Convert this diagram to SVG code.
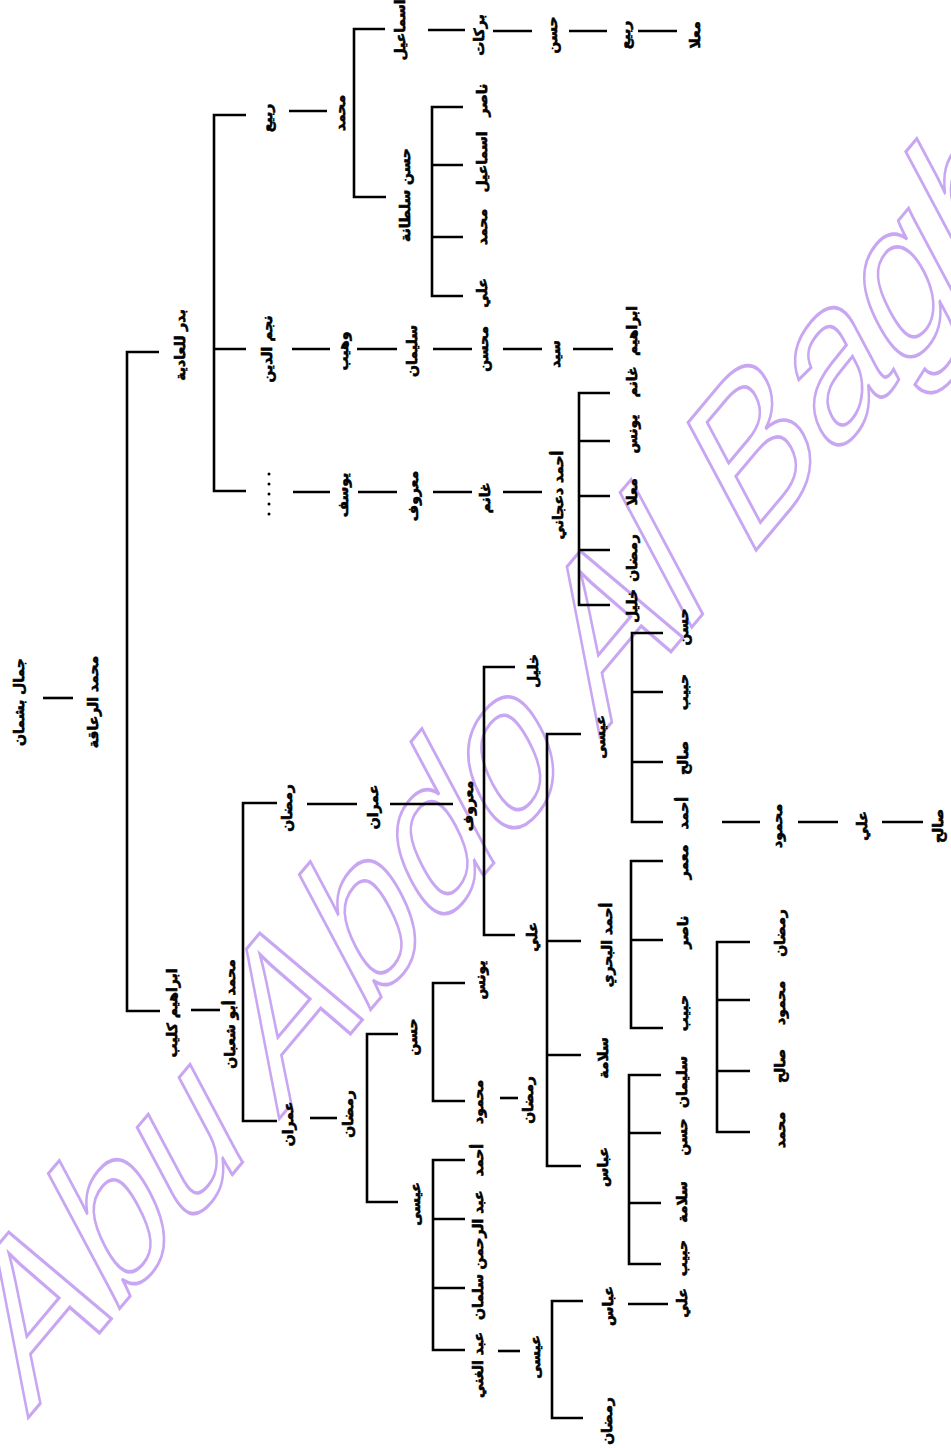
<svg xmlns="http://www.w3.org/2000/svg" width="951" height="1448" viewBox="0 0 951 1448">
<style>
.n{font-family:"DejaVu Sans",sans-serif;font-weight:bold;font-size:14px;text-anchor:middle;dominant-baseline:central;fill:#000;stroke:#000;stroke-width:0.6}
.c path{stroke:#000;stroke-width:2.6;fill:none}
.wm{font-family:"Liberation Sans",sans-serif;font-size:195px;fill:none;stroke:#c8a6f2;stroke-width:3}
</style>
<rect width="951" height="1448" fill="#fff"/>
<g id="watermark"><text class="wm" transform="translate(28,1418) rotate(-50) skewX(-22)">Abu Abdo Al Baghdadi</text></g>
<g id="connectors" class="c">
<path d="M43 698H73"/>
<path d="M159 352H127V1011H160"/>
<path d="M191 1010H220"/>
<path d="M246 115H214V491H246M214 349H246"/>
<path d="M289 111H327"/>
<path d="M385 29H354V197H386"/>
<path d="M428 30H465M493 31H532M569 31H607M638 31H677"/>
<path d="M463 107H432V296H463M432 165H463M432 237H463"/>
<path d="M292 349H330M357 349H397M433 349H472M503 349H542M573 349H613"/>
<path d="M610 393H579V605H610M579 441H610M579 496H610M579 550H610"/>
<path d="M293 492H330M358 492H397M433 492H472M503 492H542"/>
<path d="M277 803H243V1121H277"/>
<path d="M307 804H357M390 804H453"/>
<path d="M515 667H484V935H515"/>
<path d="M581 734H547V1166H581M547 941H581M547 1055H581"/>
<path d="M663 633H632V822H663M632 692H663M632 762H663"/>
<path d="M722 822H760M798 822H838M882 822H923"/>
<path d="M663 861H631V1028H663M631 940H663"/>
<path d="M661 1075H629V1264H661M629 1133H661M629 1203H661"/>
<path d="M750 942H717V1132H750M717 1000H750M717 1071H750"/>
<path d="M310 1118H337"/>
<path d="M398 1034H367V1202H398"/>
<path d="M465 983H433V1101H465"/>
<path d="M500 1098H518"/>
<path d="M465 1160H433V1350H465M433 1219H465M433 1288H465"/>
<path d="M498 1351H520"/>
<path d="M583 1301H552V1418H583"/>
<path d="M628 1304H668"/>
</g>
<g id="n-dots" fill="#000"><circle cx="269" cy="474" r="1.5"/><circle cx="269" cy="484" r="1.5"/><circle cx="269" cy="494" r="1.5"/><circle cx="269" cy="504" r="1.5"/><circle cx="269" cy="514" r="1.5"/></g>
<g id="n1"><text class="n" transform="translate(19,702) rotate(-90)">جمال بشمان</text></g>
<g id="n2"><text class="n" transform="translate(93,702) rotate(-90)">محمد الرعاقة</text></g>
<g id="n3"><text class="n" transform="translate(180,345) rotate(-90)">بدر للعادية</text></g>
<g id="n4"><text class="n" transform="translate(267,118) rotate(-90)">ربيع</text></g>
<g id="n5"><text class="n" transform="translate(340,113) rotate(-90)">محمد</text></g>
<g id="n6"><text class="n" transform="translate(400,30) rotate(-90)">اسماعيل</text></g>
<g id="n7"><text class="n" transform="translate(479,35) rotate(-90)">بركات</text></g>
<g id="n8"><text class="n" transform="translate(552,35) rotate(-90)">حسن</text></g>
<g id="n9"><text class="n" transform="translate(625,35) rotate(-90)">ربيع</text></g>
<g id="n10"><text class="n" transform="translate(695,35) rotate(-90)">معلا</text></g>
<g id="n11"><text class="n" transform="translate(405,195) rotate(-90)">حسن سلطانة</text></g>
<g id="n12"><text class="n" transform="translate(482,100) rotate(-90)">ناصر</text></g>
<g id="n13"><text class="n" transform="translate(482,162) rotate(-90)">اسماعيل</text></g>
<g id="n14"><text class="n" transform="translate(482,227) rotate(-90)">محمد</text></g>
<g id="n15"><text class="n" transform="translate(482,293) rotate(-90)">علي</text></g>
<g id="n16"><text class="n" transform="translate(267,349) rotate(-90)">نجم الدين</text></g>
<g id="n17"><text class="n" transform="translate(343,351) rotate(-90)">وهيب</text></g>
<g id="n18"><text class="n" transform="translate(412,351) rotate(-90)">سليمان</text></g>
<g id="n19"><text class="n" transform="translate(483,349) rotate(-90)">محسن</text></g>
<g id="n20"><text class="n" transform="translate(555,354) rotate(-90)">سيد</text></g>
<g id="n21"><text class="n" transform="translate(632,331) rotate(-90)">ابراهيم</text></g>
<g id="n22"><text class="n" transform="translate(632,382) rotate(-90)">غانم</text></g>
<g id="n23"><text class="n" transform="translate(632,434) rotate(-90)">يونس</text></g>
<g id="n24"><text class="n" transform="translate(632,492) rotate(-90)">معلا</text></g>
<g id="n25"><text class="n" transform="translate(632,558) rotate(-90)">رمضان</text></g>
<g id="n26"><text class="n" transform="translate(632,606) rotate(-90)">خليل</text></g>
<g id="n27"><text class="n" transform="translate(343,495) rotate(-90)">يوسف</text></g>
<g id="n28"><text class="n" transform="translate(413,496) rotate(-90)">معروف</text></g>
<g id="n29"><text class="n" transform="translate(485,498) rotate(-90)">غانم</text></g>
<g id="n30"><text class="n" transform="translate(558,495) rotate(-90)">أحمد دعجاني</text></g>
<g id="n31"><text class="n" transform="translate(172,1013) rotate(-90)">ابراهيم كليب</text></g>
<g id="n32"><text class="n" transform="translate(230,1014) rotate(-90)">محمد أبو شعبان</text></g>
<g id="n33"><text class="n" transform="translate(287,808) rotate(-90)">رمضان</text></g>
<g id="n34"><text class="n" transform="translate(373,807) rotate(-90)">عمران</text></g>
<g id="n35"><text class="n" transform="translate(468,806) rotate(-90)">معروف</text></g>
<g id="n36"><text class="n" transform="translate(533,671) rotate(-90)">خليل</text></g>
<g id="n37"><text class="n" transform="translate(532,937) rotate(-90)">علي</text></g>
<g id="n38"><text class="n" transform="translate(600,737) rotate(-90)">عيسى</text></g>
<g id="n39"><text class="n" transform="translate(607,945) rotate(-90)">أحمد البحري</text></g>
<g id="n40"><text class="n" transform="translate(603,1058) rotate(-90)">سلامة</text></g>
<g id="n41"><text class="n" transform="translate(603,1167) rotate(-90)">عباس</text></g>
<g id="n42"><text class="n" transform="translate(683,627) rotate(-90)">حسن</text></g>
<g id="n43"><text class="n" transform="translate(683,692) rotate(-90)">حبيب</text></g>
<g id="n44"><text class="n" transform="translate(683,758) rotate(-90)">صالح</text></g>
<g id="n45"><text class="n" transform="translate(683,813) rotate(-90)">أحمد</text></g>
<g id="n46"><text class="n" transform="translate(777,826) rotate(-90)">محمود</text></g>
<g id="n47"><text class="n" transform="translate(862,826) rotate(-90)">علي</text></g>
<g id="n48"><text class="n" transform="translate(938,826) rotate(-90)">صالح</text></g>
<g id="n49"><text class="n" transform="translate(683,862) rotate(-90)">معمر</text></g>
<g id="n50"><text class="n" transform="translate(683,932) rotate(-90)">ناصر</text></g>
<g id="n51"><text class="n" transform="translate(683,1013) rotate(-90)">حبيب</text></g>
<g id="n52"><text class="n" transform="translate(682,1082) rotate(-90)">سليمان</text></g>
<g id="n53"><text class="n" transform="translate(682,1137) rotate(-90)">حسن</text></g>
<g id="n54"><text class="n" transform="translate(682,1202) rotate(-90)">سلامة</text></g>
<g id="n55"><text class="n" transform="translate(682,1258) rotate(-90)">حبيب</text></g>
<g id="n56"><text class="n" transform="translate(780,933) rotate(-90)">رمضان</text></g>
<g id="n57"><text class="n" transform="translate(780,1003) rotate(-90)">محمود</text></g>
<g id="n58"><text class="n" transform="translate(780,1066) rotate(-90)">صالح</text></g>
<g id="n59"><text class="n" transform="translate(780,1130) rotate(-90)">محمد</text></g>
<g id="n60"><text class="n" transform="translate(288,1124) rotate(-90)">عمران</text></g>
<g id="n61"><text class="n" transform="translate(348,1114) rotate(-90)">رمضان</text></g>
<g id="n62"><text class="n" transform="translate(412,1037) rotate(-90)">حسن</text></g>
<g id="n63"><text class="n" transform="translate(415,1204) rotate(-90)">عيسى</text></g>
<g id="n64"><text class="n" transform="translate(480,980) rotate(-90)">يونس</text></g>
<g id="n65"><text class="n" transform="translate(478,1102) rotate(-90)">محمود</text></g>
<g id="n66"><text class="n" transform="translate(528,1100) rotate(-90)">رمضان</text></g>
<g id="n67"><text class="n" transform="translate(478,1160) rotate(-90)">أحمد</text></g>
<g id="n68"><text class="n" transform="translate(478,1230) rotate(-90)">عبد الرحمن</text></g>
<g id="n69"><text class="n" transform="translate(478,1297) rotate(-90)">سلمان</text></g>
<g id="n70"><text class="n" transform="translate(478,1365) rotate(-90)">عبد الغني</text></g>
<g id="n71"><text class="n" transform="translate(535,1357) rotate(-90)">عيسى</text></g>
<g id="n72"><text class="n" transform="translate(608,1306) rotate(-90)">عباس</text></g>
<g id="n73"><text class="n" transform="translate(607,1421) rotate(-90)">رمضان</text></g>
<g id="n74"><text class="n" transform="translate(682,1303) rotate(-90)">علي</text></g>
</svg>
